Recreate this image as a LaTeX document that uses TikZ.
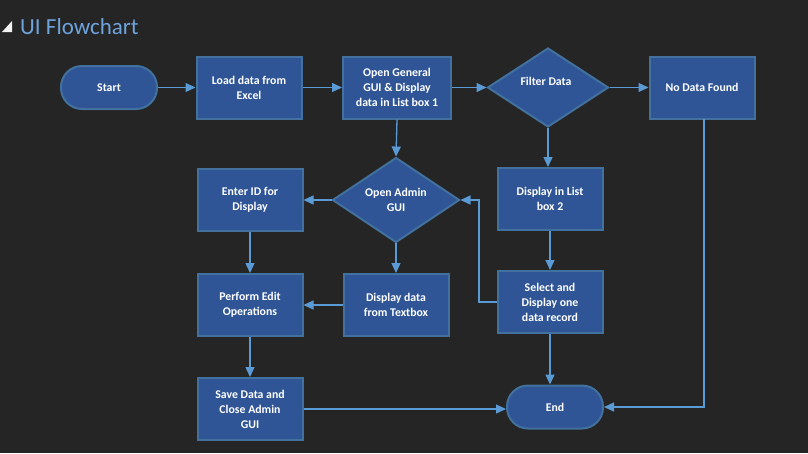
\documentclass[tikz,border=0pt]{standalone}
\usepackage{fontspec}
\setmainfont{Carlito}
\usetikzlibrary{arrows.meta,shapes.geometric}
\definecolor{bgdark}{HTML}{252526}
\definecolor{nodefill}{HTML}{2F5597}
\definecolor{nodeborder}{HTML}{41719C}
\definecolor{arcblue}{HTML}{5B9BD5}
\definecolor{titleblue}{HTML}{6FA3DC}
\tikzstyle{orientedarc}=[-{Triangle[length=10pt,width=9pt]},draw=arcblue,line width=1.3pt]
\tikzstyle{flowelement}=[draw=nodeborder,fill=nodefill,line width=2pt,text=white,align=center,font=\fontsize{11.8}{15}\selectfont\bfseries,minimum width=105pt,minimum height=62pt,inner sep=2pt]
\tikzstyle{flowterminal}=[flowelement,rounded corners=21pt,minimum width=96pt,minimum height=43pt]
\tikzstyle{flowdecision}=[flowelement,diamond,inner sep=0pt]

\begin{document}
\begin{tikzpicture}[x=1pt,y=-1pt]
\fill[bgdark] (0,0) rectangle (808,453);
\useasboundingbox (0,0) rectangle (808,453);

% title
\fill[white!90!gray] (2,32) -- (12,32) -- (12,21) -- cycle;
\node[anchor=base west,text=titleblue,font=\fontsize{23}{27}\selectfont,inner sep=0pt] (TITLE) at (20,34) {UI Flowchart};

\node[flowterminal] (START) at (109,87.5) {Start};
\node[flowelement] (LOAD) at (249,87.5) {Load data from \\ Excel};
\node[flowelement,minimum width=108pt] (OPENGUI) at (397,87.5) {Open General \\ GUI \& Display \\ data in List box 1};
\node[flowdecision,minimum width=121pt,minimum height=79pt] (FILTER) at (548,87.5) {};
\node[text=white,font=\fontsize{11.8}{15}\selectfont\bfseries] (FILTERTXT) at (546,81) {Filter Data};
\node[flowelement] (NODATA) at (702,87.5) {No Data Found};

\node[flowdecision,minimum width=127pt,minimum height=80pt] (ADMIN) at (396,200) {Open Admin \\ GUI};
\node[flowelement] (ENTERID) at (250,200) {Enter ID for \\ Display};
\node[flowelement] (LIST2) at (550,199) {Display in List \\ box 2};

\node[flowelement] (EDIT) at (250,305) {Perform Edit \\ Operations};
\node[flowelement] (TEXTBOX) at (396,305) {Display data \\ from Textbox};
\node[flowelement] (SELECT) at (550,302) {Select and \\ Display one \\ data record};

\node[flowelement] (SAVE) at (250,409) {Save Data and \\ Close Admin \\ GUI};
\node[flowterminal] (END) at (555,407) {End};

\coordinate (SELECTW) at (479,302);
\coordinate (NODATAS) at (704,119);

\draw[orientedarc] (START.east) -- (LOAD.west);
\draw[orientedarc] (LOAD.east) -- (OPENGUI.west);
\draw[orientedarc] (OPENGUI.east) -- (FILTER.west);
\draw[orientedarc] (FILTER.east) -- (NODATA.west);

\draw[orientedarc] (OPENGUI.south) -- (ADMIN.north);
\draw[orientedarc] (FILTER.south) -- (FILTER.south |- LIST2.north);

\draw[orientedarc] (ADMIN.west) -- (ENTERID.east);
\draw[orientedarc] (ADMIN.south) -- (TEXTBOX.north);
\draw[orientedarc] (ENTERID.south) -- (EDIT.north);
\draw[orientedarc] (TEXTBOX.west) -- (EDIT.east);
\draw[orientedarc] (EDIT.south) -- (SAVE.north);
\draw[orientedarc] (SAVE.east) -- (SAVE.east -| END.west);

\draw[orientedarc] (LIST2.south) -- (SELECT.north);
\draw[orientedarc] (SELECT.west) -- (SELECTW) |- (ADMIN.east);
\draw[orientedarc] (SELECT.south) -- (SELECT.south |- END.north);

\draw[orientedarc] (NODATAS) |- (END.east);

\end{tikzpicture}
\end{document}
